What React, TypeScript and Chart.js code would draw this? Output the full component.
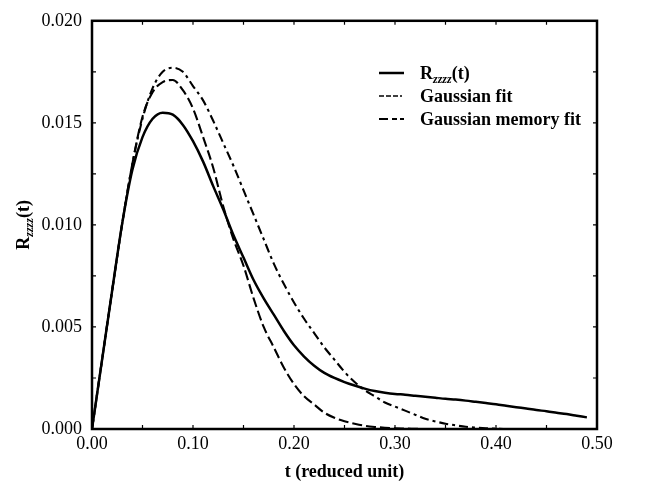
import React, { useEffect, useRef } from "react";
import { Chart, registerables } from "chart.js";

Chart.register(...registerables);

const T = [
  0, 0.01, 0.02, 0.03, 0.04, 0.05, 0.06, 0.07, 0.08, 0.09,
  0.1, 0.11, 0.12, 0.13, 0.14, 0.15, 0.16, 0.17, 0.18, 0.19,
  0.2, 0.21, 0.22, 0.23, 0.24, 0.25, 0.26, 0.27, 0.28, 0.29,
  0.3, 0.31, 0.32, 0.33, 0.34, 0.35, 0.36, 0.37, 0.38, 0.39,
  0.4, 0.41, 0.42, 0.43, 0.44, 0.45, 0.46, 0.47, 0.48, 0.49,
];

const R_ZZZZ = [
  0, 0.0034, 0.0068, 0.0101, 0.0127, 0.0143, 0.0152, 0.0155, 0.0154, 0.0149,
  0.0141, 0.0131, 0.0119, 0.01075, 0.0095, 0.0084, 0.0073, 0.0064, 0.0056, 0.0048,
  0.0041, 0.00355, 0.0031, 0.00275, 0.0025, 0.0023, 0.00213, 0.00198, 0.00186, 0.00178,
  0.00172, 0.00168, 0.00163, 0.00158, 0.00153, 0.00148, 0.00144, 0.00139, 0.00133, 0.00127,
  0.00121, 0.00114, 0.00107, 0.001, 0.00093, 0.00087, 0.0008, 0.00073, 0.00065, 0.00057,
];

const GAUSSIAN_FIT = [
  0, 0.0034, 0.0068, 0.0101, 0.013, 0.0152, 0.0167, 0.0175, 0.0177, 0.0175,
  0.0168, 0.0161, 0.0151, 0.014, 0.0129, 0.0117, 0.0105, 0.0093, 0.0081, 0.0071,
  0.0062, 0.0054, 0.0047, 0.004, 0.0034, 0.0028, 0.0023, 0.0019, 0.0016, 0.0013,
  0.0011, 0.0009, 0.0007, 0.0005, 0.00037, 0.00026, 0.00018, 0.00011, 0.00007, 0.00004,
  0.00002, 0, 0, 0, 0, 0, 0, 0, 0, 0,
];

const GAUSSIAN_MEMORY_FIT = [
  0, 0.0034, 0.0068, 0.0101, 0.013, 0.0153, 0.0165, 0.017, 0.0171, 0.0166,
  0.0157, 0.0143, 0.0128, 0.0109, 0.0093, 0.008, 0.0064, 0.005, 0.004, 0.003,
  0.0022, 0.0016, 0.0012, 0.0008, 0.00055, 0.00038, 0.00026, 0.00016, 0.0001, 0.00006,
  0.00003, 0.00002, 0.00001, 0, 0, 0, 0, 0, 0, 0,
  0, 0, 0, 0, 0, 0, 0, 0, 0, 0,
];

const X_MIN = 0;
const X_MAX = 0.5;
const Y_MIN = 0;
const Y_MAX = 0.02;
const X_MINOR_STEP = 0.05;
const Y_MINOR_STEP = 0.0025;

const SERIF = '"Liberation Serif", "Times New Roman", serif';
const DASH_FIT = [9, 4, 3, 4];
const DASH_MEMORY = [10, 4];

const pts = (vals: number[]) => T.map((t, i) => ({ x: t, y: vals[i] }));

function drawRzzzz(ctx: CanvasRenderingContext2D, x: number, y: number, measureOnly = false) {
  const big = `bold 18px ${SERIF}`;
  const sub = `bold italic 12px ${SERIF}`;
  ctx.font = big;
  const wR = ctx.measureText("R").width;
  ctx.font = sub;
  const wS = ctx.measureText("zzzz").width;
  ctx.font = big;
  const wT = ctx.measureText("(t)").width;
  const total = wR + wS + wT;
  if (measureOnly) return total;
  ctx.textBaseline = "alphabetic";
  ctx.textAlign = "left";
  ctx.font = big;
  ctx.fillText("R", x, y);
  ctx.font = sub;
  ctx.fillText("zzzz", x + wR, y + 4);
  ctx.font = big;
  ctx.fillText("(t)", x + wR + wS, y);
  return total;
}

const decorPlugin = {
  id: "decor",
  afterDraw(chart: any) {
    const { ctx, chartArea } = chart;
    const xs = chart.scales.x;
    const ys = chart.scales.y;
    const { left, right, top, bottom } = chartArea;
    ctx.save();
    ctx.strokeStyle = "#000";
    ctx.fillStyle = "#000";
    ctx.lineWidth = 2.5;
    ctx.setLineDash([]);
    ctx.strokeRect(left, top, right - left, bottom - top);
    ctx.lineWidth = 1.2;
    const tl = 4;
    ctx.beginPath();
    for (let v = X_MIN + X_MINOR_STEP; v < X_MAX - 1e-9; v += X_MINOR_STEP) {
      const px = xs.getPixelForValue(v);
      ctx.moveTo(px, bottom);
      ctx.lineTo(px, bottom - tl);
      ctx.moveTo(px, top);
      ctx.lineTo(px, top + tl);
    }
    for (let v = Y_MIN + Y_MINOR_STEP; v < Y_MAX - 1e-9; v += Y_MINOR_STEP) {
      const py = ys.getPixelForValue(v);
      ctx.moveTo(left, py);
      ctx.lineTo(left + tl, py);
      ctx.moveTo(right, py);
      ctx.lineTo(right - tl, py);
    }
    ctx.stroke();

    ctx.save();
    ctx.translate(29, (top + bottom) / 2);
    ctx.rotate(-Math.PI / 2);
    const w = drawRzzzz(ctx, 0, 0, true) as number;
    drawRzzzz(ctx, -w / 2, 0);
    ctx.restore();

    const rows = [
      { y: 73, dash: [] as number[], width: 2.5, label: "R" },
      { y: 96, dash: [5, 2, 5, 2, 5, 2, 2, 2], width: 1.6, label: "Gaussian fit" },
      { y: 119, dash: [9, 4, 5, 3], width: 2.2, label: "Gaussian memory fit" },
    ];
    rows.forEach((r, i) => {
      ctx.beginPath();
      ctx.setLineDash(r.dash);
      ctx.lineWidth = r.width;
      ctx.moveTo(379, r.y);
      ctx.lineTo(404, r.y);
      ctx.stroke();
      ctx.setLineDash([]);
      if (i === 0) {
        drawRzzzz(ctx, 420, r.y + 6);
      } else {
        ctx.font = `bold 18px ${SERIF}`;
        ctx.textAlign = "left";
        ctx.textBaseline = "alphabetic";
        ctx.fillText(r.label, 420, r.y + 6);
      }
    });
    ctx.restore();
  },
};

export default function App() {
  const ref = useRef<HTMLCanvasElement>(null);
  useEffect(() => {
    document.body.style.margin = "0";
    const canvas = ref.current!;
    const chart = new Chart(canvas, {
      type: "line",
      data: {
        datasets: [
          {
            label: "Gaussian fit",
            data: pts(GAUSSIAN_FIT),
            borderColor: "#000",
            borderWidth: 2.1,
            borderDash: DASH_FIT,
            pointRadius: 0,
            fill: false,
            cubicInterpolationMode: "monotone",
          },
          {
            label: "Gaussian memory fit",
            data: pts(GAUSSIAN_MEMORY_FIT),
            borderColor: "#000",
            borderWidth: 2.1,
            borderDash: DASH_MEMORY,
            pointRadius: 0,
            fill: false,
            cubicInterpolationMode: "monotone",
          },
          {
            label: "Rzzzz(t)",
            data: pts(R_ZZZZ),
            borderColor: "#000",
            borderWidth: 2.5,
            pointRadius: 0,
            fill: false,
            cubicInterpolationMode: "monotone",
          },
        ],
      },
      options: {
        animation: false,
        responsive: false,
        events: [],
        layout: { padding: { top: 13, right: 54, left: 0, bottom: 0 } },
        plugins: { legend: { display: false }, tooltip: { enabled: false } },
        scales: {
          x: {
            type: "linear",
            min: X_MIN,
            max: X_MAX,
            afterFit: (s: any) => {
              s.height = 54;
            },
            grid: { display: false, drawTicks: false },
            border: { display: false },
            ticks: {
              stepSize: 0.1,
              padding: 4,
              color: "#000",
              font: { family: SERIF, size: 18 },
              callback: (v: any) => Number(v).toFixed(2),
              maxRotation: 0,
            },
            title: {
              display: true,
              text: "t (reduced unit)",
              color: "#000",
              font: { family: SERIF, size: 18, weight: "bold" },
              padding: { top: 2, bottom: 0 },
            },
          },
          y: {
            type: "linear",
            min: Y_MIN,
            max: Y_MAX,
            afterFit: (s: any) => {
              s.width = 92;
            },
            grid: { display: false, drawTicks: false },
            border: { display: false },
            ticks: {
              stepSize: 0.005,
              padding: 10,
              color: "#000",
              font: { family: SERIF, size: 18 },
              callback: (v: any) => Number(v).toFixed(3),
            },
          },
        },
      },
      plugins: [decorPlugin],
    });
    return () => chart.destroy();
  }, []);
  return (
    <div style={{ width: 651, height: 483 }}>
      <canvas ref={ref} width={651} height={483} />
    </div>
  );
}
